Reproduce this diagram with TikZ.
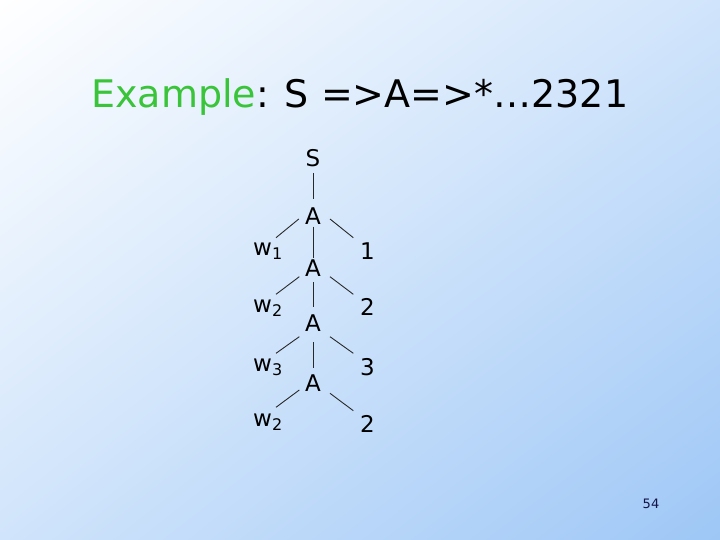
\documentclass[tikz,border=0pt]{standalone}
\usepackage{fontspec}
\setmainfont{DejaVu Sans}
\usetikzlibrary{calc,shadings}
\definecolor{bgTL}{RGB}{255,255,255}
\definecolor{bgMID}{RGB}{208,228,251}
\definecolor{bgBR}{RGB}{158,199,246}
\definecolor{titlegreen}{RGB}{57,196,57}
\definecolor{navy}{RGB}{20,20,70}
\definecolor{edgecol}{RGB}{40,40,40}
\newcommand{\wsub}[1]{w\raisebox{-4.5pt}{\fontsize{16}{16}\selectfont #1}}
\tikzset{
  sym/.style={inner sep=0pt, anchor=base, font=\fontsize{23}{23}\selectfont},
  wlab/.style={inner sep=0pt, anchor=base west, font=\fontsize{23}{23}\selectfont},
  edge/.style={draw=edgecol, line width=0.9pt}
}
\begin{document}
\begin{tikzpicture}[x=1pt,y=-1pt]
\useasboundingbox (0,0) rectangle (720,540);
\shade[upper left=bgTL, upper right=bgMID, lower left=bgMID, lower right=bgBR] (0,0) rectangle (720,540);

\node[inner sep=0pt, anchor=base west, font=\fontsize{38}{38}\selectfont] (title) at (91,108)
  {\textcolor{titlegreen}{Example}: S =>A=>*…2321};

\node[sym] (S) at (313,167) {S};
\node[sym] (A1) at (313,225) {A};
\node[sym] (A2) at (313,276.7) {A};
\node[sym] (A3) at (313,331.7) {A};
\node[sym] (A4) at (313,391.7) {A};

\node[wlab] (w1) at (253,255) {\wsub{1}};
\node[wlab] (w2) at (253,312) {\wsub{2}};
\node[wlab] (w3) at (253,371) {\wsub{3}};
\node[wlab] (w4) at (253,426) {\wsub{2}};

\node[sym] (n1) at (367.5,259) {1};
\node[sym] (n2) at (367.5,315) {2};
\node[sym] (n3) at (367.5,375) {3};
\node[sym] (n4) at (367.5,432) {2};

\node[inner sep=0pt, anchor=base, font=\fontsize{13}{13}\selectfont, text=navy] (pg) at (651,508) {54};

% vertical spine
\draw[edge] ($(S.base)+(0,6)$) -- ($(A1.base)+(0,-26)$);
\draw[edge] ($(A1.base)+(0,1.7)$) -- ($(A2.base)+(0,-18.7)$);
\draw[edge] ($(A2.base)+(0,5.6)$) -- ($(A3.base)+(0,-24.7)$);
\draw[edge] ($(A3.base)+(0,10.6)$) -- ($(A4.base)+(0,-23.7)$);

% left branches
\draw[edge] ($(A1.base)+(-14.2,-6)$) -- ($(w1.base west)+(23,-17.3)$);
\draw[edge] ($(A2.base)+(-13.7,0)$) -- ($(w2.base west)+(23,-17.7)$);
\draw[edge] ($(A3.base)+(-13.7,5)$) -- ($(w3.base west)+(23,-17.7)$);
\draw[edge] ($(A4.base)+(-13.7,-1.7)$) -- ($(w4.base west)+(23,-18.7)$);

% right branches
\draw[edge] ($(A1.base)+(17,-6)$) -- ($(n1.base)+(-14.2,-21.3)$);
\draw[edge] ($(A2.base)+(17,0)$) -- ($(n2.base)+(-14.2,-20.7)$);
\draw[edge] ($(A3.base)+(17,5)$) -- ($(n3.base)+(-14.2,-21.7)$);
\draw[edge] ($(A4.base)+(17,1.6)$) -- ($(n4.base)+(-14.2,-21.3)$);
\end{tikzpicture}
\end{document}
